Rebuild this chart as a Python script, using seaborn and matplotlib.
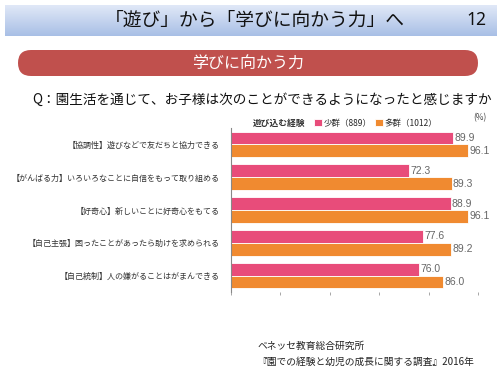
import numpy as np
import pandas as pd
import matplotlib
matplotlib.use("Agg")
import matplotlib.pyplot as plt
from matplotlib.patches import FancyBboxPatch
import seaborn as sns

# Data
categories = [
    "【協調性】遊びなどで友だちと協力できる",
    "【がんばる力】いろいろなことに自信をもって取り組める",
    "【好奇心】新しいことに好奇心をもてる",
    "【自己主張】困ったことがあったら助けを求められる",
    "【自己統制】人の嫌がることはがまんできる",
]
group_names = ["少群（889）", "多群（1012）"]
low_values = [89.9, 72.3, 88.9, 77.6, 76.0]
high_values = [96.1, 89.3, 96.1, 89.2, 86.0]
bar_colors = ["#e84c7a", "#f08a30"]

sns.set_theme(style="white")
plt.rcParams["font.family"] = ["Noto Sans CJK JP", "DejaVu Sans"]

df = pd.DataFrame({
    "item": categories * 2,
    "group": [group_names[0]] * len(categories) + [group_names[1]] * len(categories),
    "value": low_values + high_values,
})

fig = plt.figure(figsize=(5, 3.75), dpi=100)
fig.patch.set_facecolor("white")

# background layer in pixel coordinates
bg = fig.add_axes([0, 0, 1, 1], zorder=0)
bg.set_xlim(0, 500)
bg.set_ylim(375, 0)
bg.axis("off")

# header banner with vertical gradient
top_c = np.array([0.88, 0.91, 0.97])
bot_c = np.array([0.66, 0.75, 0.90])
t = np.linspace(0, 1, 64)[:, None, None]
grad = top_c * (1 - t) + bot_c * t
bg.imshow(grad, extent=(5, 497, 36, 5), origin="upper", aspect="auto", zorder=0)
bg.text(255, 20, "「遊び」から「学びに向かう力」へ", ha="center", va="center",
        fontsize=13.5, color="#111111")
bg.text(476, 20, "12", ha="center", va="center", fontsize=12.5,
        family=["Noto Sans", "DejaVu Sans"], color="#111111")

# red rounded label
pill = FancyBboxPatch((18, 50), 460, 26, boxstyle="round,pad=0,rounding_size=13",
                      facecolor="#c0504d", edgecolor="none", zorder=1)
bg.add_patch(pill)
bg.text(248, 63, "学びに向かう力", ha="center", va="center", fontsize=11.5, color="white")

bg.text(32, 100, "Q：園生活を通じて、お子様は次のことができるようになったと感じますか",
        ha="left", va="center", fontsize=9.8, color="#111111")

# legend row
bg.text(253, 123, "遊び込む経験", ha="left", va="center", fontsize=6.3,
        fontweight="bold", color="#333333")
bg.text(480, 118, "(%)", ha="center", va="center", fontsize=6, color="#444444")

bg.text(257, 346, "ベネッセ教育総合研究所", ha="left", va="center", fontsize=7, color="#222222")
bg.text(257, 362, "『園での経験と幼児の成長に関する調査』2016年", ha="left", va="center",
        fontsize=7, color="#222222")

# chart
ax = fig.add_axes([0.4614, 0.2213, 0.4946, 0.4373], zorder=2)
ax.patch.set_alpha(0)
sns.barplot(data=df, y="item", x="value", hue="group", hue_order=group_names,
            palette=bar_colors, width=0.78, saturation=1, edgecolor="white",
            linewidth=0.6, ax=ax, orient="h")

for cont in ax.containers:
    ax.bar_label(cont, fmt="%.1f", padding=1, fontsize=7.5, color="#666666",
                 family=["Liberation Sans", "DejaVu Sans"])

ax.set_xlim(0, 100)
ax.set_ylim(4.5, -0.5)
ax.set_xlabel("")
ax.set_ylabel("")
ax.set_xticks([0, 20, 40, 60, 80, 100])
ax.set_xticklabels([])
ax.tick_params(axis="x", bottom=True, length=2, width=0.6, color="#999999")
ax.tick_params(axis="y", left=False, labelsize=5.8, pad=2, labelcolor="#333333")
for s in ["top", "right", "bottom"]:
    ax.spines[s].set_visible(False)
ax.spines["left"].set_color("#888888")
ax.spines["left"].set_linewidth(0.8)

handles, labels = ax.get_legend_handles_labels()
ax.legend(handles, labels, ncol=2, frameon=False, loc="center left",
          bbox_to_anchor=(314 / 500, 1 - 123 / 375), bbox_transform=fig.transFigure,
          fontsize=6.1, handlelength=1.0, handleheight=0.9, handletextpad=0.2,
          columnspacing=0.3, borderpad=0, borderaxespad=0)

fig.savefig("out.png", dpi=100)
plt.close(fig)
